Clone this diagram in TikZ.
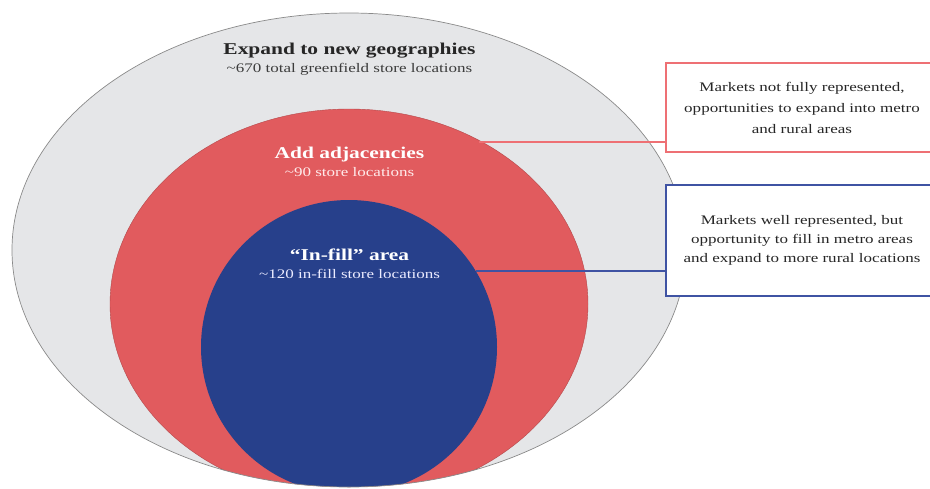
\documentclass[tikz,border=0pt]{standalone}
\usepackage{fontspec}
\setmainfont{Liberation Serif}[FakeStretch=1.3]
\definecolor{outerfill}{HTML}{E5E6E8}
\definecolor{outerline}{HTML}{8A8A8A}
\definecolor{redfill}{HTML}{E15B5E}
\definecolor{redline}{HTML}{EE7074}
\definecolor{bluefill}{HTML}{27408B}
\definecolor{blueline}{HTML}{3F53A3}
\definecolor{darktext}{HTML}{262626}
\tikzset{
  headtxt/.style={anchor=base, inner sep=0pt, font=\fontsize{16.5}{20}\selectfont\bfseries},
  subtxt/.style={anchor=base, inner sep=0pt, font=\fontsize{13.1}{16}\selectfont},
  sidebox/.style={draw, line width=1.9pt, fill=white, minimum width=272pt, inner sep=0pt,
     align=center, text=darktext},
  conn/.style={line width=1.9pt}
}
\begin{document}
\begin{tikzpicture}[x=1pt,y=-1pt]
\useasboundingbox (0,0) rectangle (930,488);
\clip (0,0) rectangle (930,488);
% outer ellipse
\path[fill=outerfill] (349,250) ellipse [x radius=337, y radius=237];
\begin{scope}
  \clip (349,250) ellipse [x radius=337, y radius=237];
  \path[fill=redfill, draw=redfill!80!black, line width=0.4pt] (349,304) ellipse [x radius=239, y radius=195];
  \path[fill=bluefill] (349,347) ellipse [x radius=148, y radius=147];
\end{scope}
\draw[outerline, line width=0.7pt] (349,250) ellipse [x radius=337, y radius=237];
% texts
\node[headtxt, text=darktext] (t1) at (349.5,54) {Expand to new geographies};
\node[subtxt, text=darktext!90] (s1) at (349.5,72) {\textasciitilde670 total greenfield store locations};
\node[headtxt, text=white] (t2) at (349.5,158) {Add adjacencies};
\node[subtxt, text=white!92!red] (s2) at (349.5,176.5) {\textasciitilde90 store locations};
\node[headtxt, text=white] (t3) at (349.5,260) {“In-fill” area};
\node[subtxt, text=white!92!blue] (s3) at (349.5,278) {\textasciitilde120 in-fill store locations};
% side boxes
\node[sidebox, draw=redline, minimum height=88.4pt, font=\fontsize{13.1}{21}\selectfont] (rb) at (802,107.5)
  {Markets not fully represented,\\opportunities to expand into metro\\and rural areas};
\node[sidebox, draw=blueline, minimum height=110.7pt, font=\fontsize{13.1}{19.3}\selectfont] (bb) at (802,240.3)
  {Markets well represented, but\\opportunity to fill in metro areas\\and expand to more rural locations};
% connectors
\coordinate (rc) at (479,141.7);
\coordinate (bc) at (476,271);
\draw[conn, redline] (rc) -- (rc -| rb.west);
\draw[conn, blueline] (bc) -- (bc -| bb.west);
\end{tikzpicture}
\end{document}
